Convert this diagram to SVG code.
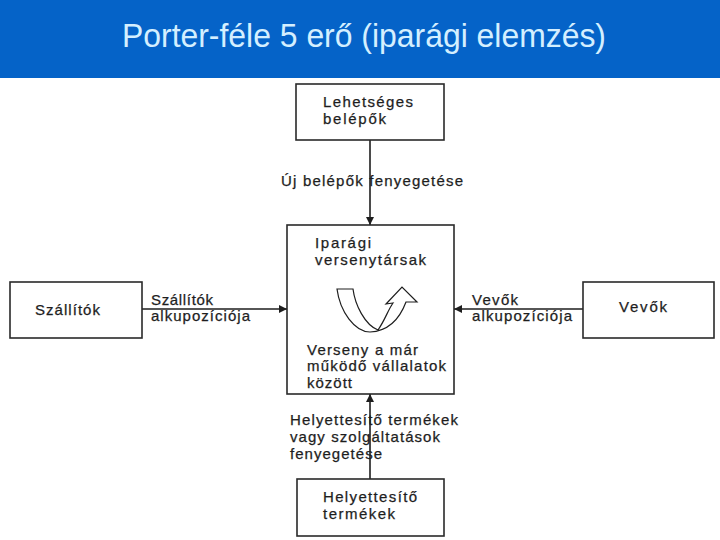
<svg xmlns="http://www.w3.org/2000/svg" width="720" height="540" viewBox="0 0 720 540">
<style>
.box{fill:#fff;stroke:#2a2a2a;stroke-width:1.6}
.t{font-family:"Liberation Sans",Arial,sans-serif;font-size:15px;fill:#1e1e1e;stroke:#1e1e1e;stroke-width:0.25}
.ln{stroke:#1e1e1e;stroke-width:1.6;fill:none}
.title{font-family:"Liberation Sans",Arial,sans-serif;font-size:33px;fill:#d4efff}
</style>
<defs>
<marker id="ah" viewBox="0 0 10 10" refX="10" refY="5" markerWidth="8" markerHeight="8" markerUnits="userSpaceOnUse" orient="auto">
<path d="M0,0 L10,5 L0,10 Z" fill="#1e1e1e"/>
</marker>
</defs>
<rect width="720" height="540" fill="#fff"/>
<g id="title">
<rect x="0" y="0" width="720" height="78" fill="#0563c8"/>
<text class="title" x="122" y="47" textLength="484" lengthAdjust="spacingAndGlyphs">Porter-féle 5 erő (iparági elemzés)</text>
</g>
<g id="connectors">
<line class="ln" x1="370" y1="140" x2="370" y2="225" marker-end="url(#ah)"/>
<line class="ln" x1="142" y1="309" x2="287" y2="309" marker-end="url(#ah)"/>
<line class="ln" x1="583" y1="309" x2="454" y2="309" marker-end="url(#ah)"/>
<line class="ln" x1="370" y1="479" x2="370" y2="394" marker-end="url(#ah)"/>
<text class="t" x="281" y="186" textLength="182" lengthAdjust="spacing">Új belépők fenyegetése</text>
<text class="t" x="151" y="305" textLength="62" lengthAdjust="spacing">Szállítók</text>
<text class="t" x="151" y="321" textLength="99" lengthAdjust="spacing">alkupozíciója</text>
<text class="t" x="472" y="305" textLength="46" lengthAdjust="spacing">Vevők</text>
<text class="t" x="472" y="321" textLength="100" lengthAdjust="spacing">alkupozíciója</text>
<text class="t" x="290" y="425" textLength="168" lengthAdjust="spacing">Helyettesítő termékek</text>
<text class="t" x="290" y="442" textLength="150" lengthAdjust="spacing">vagy szolgáltatások</text>
<text class="t" x="290" y="459" textLength="92" lengthAdjust="spacing">fenyegetése</text>
</g>
<g id="node-belepok">
<rect class="box" x="296" y="84" width="148" height="56"/>
<text class="t" x="323" y="107" textLength="90" lengthAdjust="spacing">Lehetséges</text>
<text class="t" x="323" y="124" textLength="63" lengthAdjust="spacing">belépők</text>
</g>
<g id="node-versenytarsak">
<rect class="box" x="287" y="225" width="167" height="169"/>
<text class="t" x="315" y="248" textLength="56" lengthAdjust="spacing">Iparági</text>
<text class="t" x="315" y="265" textLength="111" lengthAdjust="spacing">versenytársak</text>
<path d="M337,289 L353,289 C355,305 365,325 378,330 C385,320 388,310 393,303 L386,304 L402,287 L417,302 L406,302 C400,318 390,331 370,332 C355,332 340,312 337,289 Z" fill="#fff" stroke="#1e1e1e" stroke-width="1.2"/>
<text class="t" x="307" y="355" textLength="111" lengthAdjust="spacing">Verseny a már</text>
<text class="t" x="307" y="371" textLength="139" lengthAdjust="spacing">működő vállalatok</text>
<text class="t" x="307" y="388" textLength="45" lengthAdjust="spacing">között</text>
</g>
<g id="node-szallitok">
<rect class="box" x="10" y="282" width="132" height="56"/>
<text class="t" x="35" y="315" textLength="65" lengthAdjust="spacing">Szállítók</text>
</g>
<g id="node-vevok">
<rect class="box" x="583" y="282" width="131" height="56"/>
<text class="t" x="619" y="312" textLength="48" lengthAdjust="spacing">Vevők</text>
</g>
<g id="node-helyettesito">
<rect class="box" x="297" y="479" width="147" height="57"/>
<text class="t" x="323" y="502" textLength="94" lengthAdjust="spacing">Helyettesítő</text>
<text class="t" x="323" y="519" textLength="72" lengthAdjust="spacing">termékek</text>
</g>
</svg>
